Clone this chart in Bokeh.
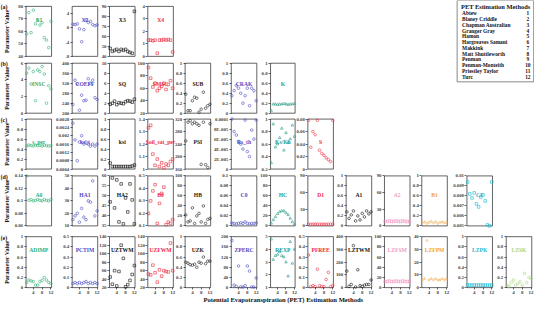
import math
from bokeh.plotting import figure
from bokeh.models import Range1d, LinearAxis, FixedTicker
from bokeh.embed import file_html
from bokeh.resources import INLINE
from bokeh.core.properties import value

# ---------------- data ----------------
METHOD_IDS = list(range(1, 13))
METHODS = ["Abtew", "Blaney Criddle", "Chapman Australian", "Granger Gray", "Hamon",
           "Hargreaves Samani", "Makkink", "Matt Shuttleworth", "Penman",
           "Penman-Monteith", "Priestley Taylor", "Turc"]
ROW_TAGS = ["(a)", "(b)", "(c)", "(d)", "(e)"]

# row (a)
X1 = [58, 75, 59, 77, 66, 69, 65, 67, 55, 53, 47, 68]
X2 = [1.0, 0.9, 1.1, -0.3, -3.9, -0.5, 2.2, 1.5, 1.8, 0.9, 0.6, 0.8]
X3 = [48, 45, 46, 47, 45, 47, 46, 47, 45, 44, 43, 85]
X4 = [1.3, 1.3, 1.25, 1.3, 0.25, 1.3, 1.3, 1.35, 1.3, 1.35, 1.3, 0.35]
# row (b)
INSC = [4.8, 5.4, 3.5, 5.0, 1.5, 5.2, 5.0, 5.6, 4.7, 1.2, 3.3, 2.9]
COEFF = [235, 332, 318, 212, 272, 250, 252, 338, 320, 332, 262, 255]
SQ = [1.8, 2.0, 2.4, 1.7, 2.1, 2.0, 1.9, 2.3, 2.5, 2.4, 2.2, 2.8]
SMSC = [93, 76, 62, 68, 56, 60, 63, 68, 58, 66, 72, 60]
SUB = [0.38, 0.05, 0.05, 0.25, 0.32, 0.30, 0.02, 0.08, 0.42, 0.10, 0.15, 0.18]
CRAK = [0.35, 0.45, 0.55, 0.50, 0.40, 0.20, 0.35, 0.50, 0.15, 0.50, 0.45, 0.25]
K = [0.05, 0.18, 0.18, 0.17, 0.18, 0.18, 0.19, 0.18, 0.17, 0.18, 0.18, 0.19]
# row (c)
S_PER = [0.46, 0.48, 0.47, 0.46, 0.48, 0.47, 0.47, 0.46, 0.48, 0.47, 0.46, 0.47]
KS_T = [0.0026, 0.0018, 0.0008, 0.0017, 0.0020, 0.0016, 0.0017, 0.0016, 0.0015, 0.0016, 0.0015, 0.0016]
KSI = [0.12, 0.05, 0.05, 0.05, 0.05, 0.05, 0.05, 0.05, 0.05, 0.05, 0.06, 0.08]
SOIL = [1.33, 1.35, 1.12, 1.03, 1.08, 1.02, 1.05, 1.01, 1.04, 1.03, 1.06, 1.08]
PSI = [250, 310, 315, 305, 310, 305, 300, 175, 310, 174, 165, 305]
RS_TH = [1.0e-4, 7.5e-5, 6.8e-5, 5.5e-5, 5.0e-5, 4.0e-5, 9.8e-5, 3.5e-5, 2.5e-5, 7.8e-5, 6.0e-5, 9.8e-5]
KS_KH = [0.30, 0.92, 0.55, 0.60, 0.70, 0.85, 0.50, 0.78, 0.62, 0.68, 0.90, 0.72]
S = [0.078, 0.035, 0.060, 0.055, 0.078, 0.030, 0.025, 0.022, 0.018, 0.015, 0.012, 0.078]
# row (d)
A0 = [0.14, 0.101, 0.102, 0.100, 0.101, 0.102, 0.101, 0.100, 0.102, 0.101, 0.100, 0.102]
HA1 = [15, 18, 20, 13, 24, 17, 15, 30, 29, 46, 18, 22]
HA2 = [47, 59, 44, 58, 37, 56, 36, 49, 42, 56, 48, 36]
B0 = [0.20, 0.30, 0.38, 0.43, 0.12, 0.28, 0.36, 0.41, 0.11, 0.13, 0.12, 0.15]
HB = [22, 8, 10, 36, 5, 20, 25, 8, 40, 5, 13, 15]
C0 = [0.006, 0.005, 0.004, 0.005, 0.006, 0.005, 0.008, 0.005, 0.004, 0.005, 0.005, 0.006]
HC = [5, 12, 18, 24, 28, 30, 30, 26, 22, 15, 8, 3]
D1 = [3, 3, 3, 3, 3, 3, 3, 3, 3, 3, 3, 3]
A1 = [0.28, 0.15, 0.22, 0.30, 0.10, 0.20, 0.12, 0.25, 0.18, 0.30, 0.24, 0.28]
A2 = [8, 8, 9, 8, 8, 9, 8, 8, 9, 8, 8, 8]
B1 = [0.06, 0.08, 0.05, 0.07, 0.09, 0.06, 0.08, 0.05, 0.07, 0.08, 0.06, 0.07]
CF = [0.0094, 0.0082, 0.0078, 0.0083, 0.0072, 0.0069, 0.0079, 0.0081, 0.0075, 0.0051, 0.0050, 0.0094]
# row (e)
ADIMP = [0.10, 0.15, 0.13, 0.12, 0.05, 0.05, 0.12, 0.14, 0.20, 0.15, 0.10, 0.08]
PCTIM = [0.04, 0.05, 0.04, 0.05, 0.04, 0.05, 0.06, 0.04, 0.05, 0.04, 0.05, 0.04]
UZTWM = [45, 28, 60, 24, 58, 120, 89, 22, 27, 37, 51, 72]
UZFWM = [52, 50, 73, 55, 33, 62, 47, 60, 58, 57, 125, 60]
UZK = [0.50, 0.48, 0.45, 0.44, 0.46, 0.40, 0.50, 0.48, 0.60, 0.47, 0.52, 0.52]
ZPERC = [185, 10, 5, 85, 3, 2, 8, 85, 65, 3, 2, 38]
REXP = [4.8, 3.2, 3.5, 3.6, 3.8, 3.5, 3.4, 3.0, 1.9, 4.6, 2.9, 4.0]
PFREE = [0.32, 0.01, 0.02, 0.01, 0.18, 0.02, 0.01, 0.01, 0.08, 0.15, 0.01, 0.02]
LZTWM = [130, 10, 25, 330, 5, 140, 15, 10, 20, 25, 25, 60]
LZFSM = [12, 12, 13, 12, 12, 13, 12, 12, 13, 12, 12, 12]
LZFPM = [6, 7, 37, 6, 7, 6, 7, 6, 6, 7, 6, 7]
LZPK = [0.05, 0.05, 0.05, 0.05, 0.05, 0.05, 0.05, 0.05, 0.05, 0.05, 0.05, 0.05]
LZSK = [0.05, 0.03, 0.10, 0.15, 0.05, 0.08, 0.12, 0.05, 0.28, 0.10, 0.20, 0.18]

# panels per row: (name, values, y-min, y-max, tick step)
ROWS = [
    [("X1", X1, 40, 80, 10), ("X2", X2, -8, 6, 4), ("X3", X3, 40, 90, 10), ("X4", X4, 0, 4, 1)],
    [("INSC", INSC, 0, 6, 2), ("COEFF", COEFF, 200, 400, 40), ("SQ", SQ, 0, 10, 2),
     ("SMSC", SMSC, 20, 100, 20), ("SUB", SUB, 0, 1, 0.2), ("CRAK", CRAK, 0, 1, 0.2), ("K", K, 0, 1, 0.2)],
    [("s_per", S_PER, 0, 1, 0.2), ("ks_t", KS_T, 0.0004, 0.0028, 0.0004), ("ksi", KSI, 0, 1, 0.2),
     ("Soil_sat_per", SOIL, 1, 1.4, 0.1), ("PSI", PSI, 160, 320, 40), ("Rs_th", RS_TH, 0, 0.0001, 0.00002),
     ("Ks/Kh", KS_KH, 0.2, 1, 0.2), ("S", S, 0, 0.08, 0.02)],
    [("A0", A0, 0.06, 0.14, 0.02), ("HA1", HA1, 10, 50, 10), ("HA2", HA2, 35, 60, 5), ("B0", B0, 0.1, 0.5, 0.1),
     ("HB", HB, 0, 100, 20), ("C0", C0, 0, 0.1, 0.02), ("HC", HC, 0, 100, 20), ("D1", D1, 0, 90, 30),
     ("A1", A1, 0, 1, 0.2), ("A2", A2, 0, 90, 30), ("B1", B1, 0, 1, 0.2), ("CF", CF, 0.005, 0.01, 0.001)],
    [("ADIMP", ADIMP, 0, 1, 0.2), ("PCTIM", PCTIM, 0, 0.5, 0.1), ("UZTWM", UZTWM, 20, 140, 20),
     ("UZFWM", UZFWM, 20, 140, 20), ("UZK", UZK, 0, 1, 0.2), ("ZPERC", ZPERC, 0, 200, 40),
     ("REXP", REXP, 1, 5, 1), ("PFREE", PFREE, 0, 0.5, 0.1), ("LZTWM", LZTWM, 0, 400, 100),
     ("LZFSM", LZFSM, 0, 100, 20), ("LZFPM", LZFPM, 0, 40, 10), ("LZPK", LZPK, 0, 1, 0.2),
     ("LZSK", LZSK, 0, 1, 0.2)],
]
X_TICKS = [4, 8, 12]

# ---------------- layout / style ----------------
COLORS = ["#2fae72", "#4b4bc4", "#111111", "#ee2a3c", "#222222", "#4b4bc4", "#2e9a88",
          "#ee2a3c", "#111111", "#f29ac4", "#f0a23a", "#1cb8d2", "#a9d27e"]
MARKERS = ["circle", "circle", "square", "square", "circle", "circle", "triangle",
           "circle", "circle", "square", "diamond", "square", "circle"]
COL_L = [28, 75, 113, 152, 190, 237, 277, 315, 354, 393, 431, 477, 517]
COL_R = [54, 101, 139, 178, 216, 263, 302, 341, 380, 419, 457, 503, 543]
ROW_T = [9, 67, 124, 182, 244]
ROW_B = [60, 118, 175, 233, 296]
TITLE_FRAC = [0.27, 0.41, 0.45, 0.38, 0.27]

W, H = 534, 304
FONT = "Liberation Serif"


def cx(rx):
    return (rx - 2) * 0.982


def cy(ry):
    return (ry - 3) * 0.98


def fmt(v):
    s = "%g" % v
    if "e" in s:
        m, e = s.split("e")
        sign = "-" if e.startswith("-") else "+"
        s = m + "E" + sign + e.lstrip("+-").zfill(3)
    return s


p = figure(width=W, height=H, x_range=Range1d(0, W), y_range=Range1d(H, 0),
           output_backend="svg", toolbar_location=None, x_axis_type=None,
           y_axis_type=None, min_border=0, title=None)
p.outline_line_color = None
p.background_fill_color = "white"

X0, X1R = 0.7, 12.3

for r, panels in enumerate(ROWS):
    T, B = cy(ROW_T[r]), cy(ROW_B[r])
    for c, (name, vals, lo, hi, step) in enumerate(panels):
        L, R = cx(COL_L[c]), cx(COL_R[c])
        sx = (X1R - X0) / (R - L)
        xn, yn = "x%d_%d" % (r, c), "y%d_%d" % (r, c)
        p.extra_x_ranges[xn] = Range1d(X0 - L * sx, X0 + (W - L) * sx)
        b, t = H - B, H - T
        sy = (hi - lo) / (t - b)
        p.extra_y_ranges[yn] = Range1d(lo - b * sy, lo + (H - b) * sy)

        col = COLORS[c]
        # frame
        p.quad(left=[X0], right=[X1R], bottom=[lo], top=[hi], fill_color=None,
               line_color="#222222", line_width=0.7, x_range_name=xn, y_range_name=yn)
        # points
        mk = MARKERS[c]
        p.scatter(x=METHOD_IDS, y=vals, marker=mk, size=2.6, fill_color=None,
                  line_color=col, line_width=0.6, x_range_name=xn, y_range_name=yn)
        # name
        ty = hi - TITLE_FRAC[r] * (hi - lo)
        p.text(x=[(X0 + X1R) / 2], y=[ty], text=[name], text_align="center",
               text_baseline="middle", text_font=value(FONT), text_font_style="bold",
               text_font_size="5.6px", text_color=col, x_range_name=xn, y_range_name=yn)
        # y axis
        n = int(round((hi - lo) / step))
        ticks = [round(lo + i * step, 10) for i in range(n + 1)]
        ax = LinearAxis(x_range_name=xn, y_range_name=yn, fixed_location=X0,
                        bounds=(lo, hi), ticker=FixedTicker(ticks=ticks),
                        major_label_overrides={tk: fmt(tk) for tk in ticks})
        ax.axis_line_color = None
        ax.major_tick_out = 2
        ax.major_tick_in = 0
        ax.major_tick_line_width = 0.6
        ax.minor_tick_line_color = None
        ax.major_label_standoff = 1
        ax.major_label_text_font = FONT
        ax.major_label_text_font_style = "bold"
        ax.major_label_text_font_size = "4.8px"
        p.add_layout(ax, "left")
        if r == 4:
            bx = LinearAxis(x_range_name=xn, y_range_name=yn, fixed_location=lo,
                            bounds=(X0, X1R), ticker=FixedTicker(ticks=X_TICKS))
            bx.axis_line_color = None
            bx.major_tick_out = 2
            bx.major_tick_in = 0
            bx.major_tick_line_width = 0.6
            bx.minor_tick_line_color = None
            bx.major_label_standoff = 1
            bx.major_label_text_font = FONT
            bx.major_label_text_font_style = "bold"
            bx.major_label_text_font_size = "5px"
            p.add_layout(bx, "below")

    # row tag and y title
    p.text(x=[cx(2)], y=[cy(ROW_T[r] + 1)], text=[ROW_TAGS[r]], text_align="left",
           text_baseline="middle", text_font=value(FONT), text_font_style="bold",
           text_font_size="6px", text_color="#111111")
    p.text(x=[cx(9)], y=[cy((ROW_T[r] + ROW_B[r]) / 2)], text=["Parameter Value"],
           angle=math.pi / 2, text_align="center", text_baseline="middle",
           text_font=value(FONT), text_font_style="bold", text_font_size="6px",
           text_color="#111111")

# x-axis title
p.text(x=[cx(290)], y=[cy(308)], text=["Potential Evapotranspiration (PET) Estimation Methods"],
       text_align="center", text_baseline="middle", text_font=value(FONT),
       text_font_style="bold", text_font_size="6.6px", text_color="#111111")

# method key box
LEG_Y = [16 + 5.9 * i for i in range(12)]
p.quad(left=[cx(467)], right=[cx(545)], top=[cy(3)], bottom=[cy(86)], fill_color="white",
       line_color="#555555", line_width=0.7)
p.text(x=[cx(471)], y=[cy(9)], text=["PET Estimation Methods"], text_align="left",
       text_baseline="middle", text_font=value(FONT), text_font_style="bold",
       text_font_size="6.4px", text_color="#111111")
p.text(x=[cx(472)] * 12, y=[cy(v) for v in LEG_Y], text=METHODS,
       text_align="left", text_baseline="middle", text_font=value(FONT),
       text_font_style="bold", text_font_size="5.4px", text_color="#111111")
p.text(x=[cx(539)] * 12, y=[cy(v) for v in LEG_Y],
       text=[str(i) for i in METHOD_IDS], text_align="center", text_baseline="middle",
       text_font=value(FONT), text_font_style="bold", text_font_size="5.4px",
       text_color="#111111")

open("out.html", "w").write(file_html(p, INLINE))
